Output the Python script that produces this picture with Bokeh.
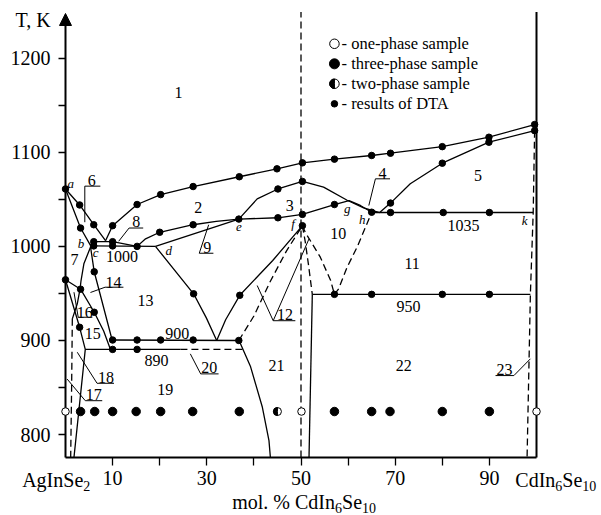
import math
from bokeh.plotting import figure
from bokeh.models import Range1d, FixedTicker, LinearAxis, Arrow, NormalHead
from bokeh.core.properties import value
from bokeh.embed import file_html
from bokeh.resources import INLINE

FONT = "Liberation Serif"

# ---------------- axes ----------------
x_ticks = [10, 20, 30, 40, 50, 60, 70, 80, 90]
x_tick_labels = {10: "10", 20: "", 30: "30", 40: "", 50: "50", 60: "", 70: "70", 80: "", 90: "90"}
y_ticks = [800, 900, 1000, 1100, 1200]
y_minor = [850, 950, 1050, 1150]
T_MIN = 775.7
T_TOP = 1249

# ---------------- solid phase boundaries ----------------
liq_main_x = [8.5, 10, 15.2, 20.2, 27.1, 36.9, 44.9, 50.3, 57.1, 65, 69, 80, 89.9, 99.6]
liq_main_T = [1006, 1022, 1044.5, 1055, 1063.6, 1074, 1082.4, 1088.8, 1092.7, 1096.6, 1099, 1106, 1116, 1129.5]
liq_left_x = [0, 3.0, 6.0, 8.5]
liq_left_T = [1061, 1044, 1023, 1006]
ab_x = [0, 3.2, 5.3]
ab_T = [1061, 1019.5, 1001]
line1000_x = [5.3, 19.1]
line1000_T = [1000.5, 1000]
curve8_x = [5.3, 6, 10, 15.2]
curve8_T = [1001, 1005, 1005, 1000]
sol_upper_x = [15.2, 17, 20, 27.1, 32, 36.8, 45.1, 50.3, 57.1, 60.2, 62.6, 65]
sol_upper_T = [1000, 1008, 1015, 1023, 1026.5, 1029, 1030.4, 1034, 1044.5, 1048.7, 1043.5, 1036.3]
de_x = [19.1, 36.8]
de_T = [1000, 1029]
dome_x = [36.8, 40.7, 45.1, 50.3, 54.8, 59.8, 63.3, 66.7]
dome_T = [1029, 1050.5, 1061, 1069, 1063, 1049, 1041, 1036]
line1035_x = [65, 99.3]
line1035_T = [1036, 1036]
liq_right_x = [66.7, 69, 73.2, 80, 89.9, 99.6]
liq_right_T = [1036, 1046, 1066.5, 1088.4, 1110.7, 1123]
vleft_x = [19.1, 27.2, 29.9, 32.1]
vleft_T = [1000, 949.6, 924, 900]
vright_x = [50.3, 44, 37, 34, 32.1]
vright_T = [1022, 985, 948, 922, 900]
line900_x = [9.9, 36.8]
line900_T = [900.5, 900]
line890_x = [4.2, 24.4]
line890_T = [890.5, 890.5]
b_down_x = [5.3, 6.1, 9.9]
b_down_T = [1000, 973, 900.5]
c_curve_x = [5.3, 3.9, 3.3, 3.1, 2.5, 1.45]
c_curve_T = [999, 981.5, 963.7, 955, 939, 923]
ag_liq_x = [0, 3.2, 6.1, 8.1, 9.55]
ag_liq_T = [964.5, 954.5, 930, 910, 890.5]
ag_sol_x = [0, 3.0, 4.2, 1.8]
ag_sol_T = [964.5, 914, 890.5, 775.7]
solvus21_x = [36.8, 37.2, 39.3, 41.8, 43.2, 43.5]
solvus21_T = [900, 896, 872, 829, 793.6, 775.7]
v52_x = [52.4, 51.7]
v52_T = [949, 775.7]
line950_x = [52.4, 98.7]
line950_T = [949, 949]

solid_curves = [
    (liq_main_x, liq_main_T), (liq_left_x, liq_left_T), (ab_x, ab_T),
    (line1000_x, line1000_T), (curve8_x, curve8_T), (sol_upper_x, sol_upper_T),
    (de_x, de_T), (dome_x, dome_T), (line1035_x, line1035_T),
    (liq_right_x, liq_right_T), (vleft_x, vleft_T), (vright_x, vright_T),
    (line900_x, line900_T), (line890_x, line890_T), (b_down_x, b_down_T),
    (c_curve_x, c_curve_T), (ag_liq_x, ag_liq_T), (ag_sol_x, ag_sol_T),
    (solvus21_x, solvus21_T), (v52_x, v52_T), (line950_x, line950_T),
]

# ---------------- dashed boundaries ----------------
d50_x = [50, 50]
d50_T = [T_MIN, T_TOP]
d_left_x = [36.8, 40, 43.5, 46.9, 50.3]
d_left_T = [900, 926, 963, 995, 1022]
d_f52_x = [50.3, 50.9, 51.6, 52.4]
d_f52_T = [1022, 1005, 980, 949]
d_f57_x = [50.3, 50.9, 54.1, 56.3, 57.1]
d_f57_T = [1022, 1015, 988.5, 963.7, 949]
d_57h_x = [57.1, 58, 59.8, 61.9, 65]
d_57h_T = [949, 955, 978, 999, 1036]
d890_x = [24.4, 37.9]
d890_T = [890.5, 890.5]
d_ledge_x = [1.45, 1.3, 1.1]
d_ledge_T = [923, 850, T_MIN]
d_redge_x = [99.6, 99.3, 98.7, 98.0]
d_redge_T = [1123, 1036, 949, T_MIN]

dashed_curves = [
    (d50_x, d50_T), (d_left_x, d_left_T), (d_f52_x, d_f52_T), (d_f57_x, d_f57_T),
    (d_57h_x, d_57h_T), (d890_x, d890_T), (d_ledge_x, d_ledge_T), (d_redge_x, d_redge_T),
]

# ---------------- DTA points ----------------
dta_x = [0, 3.0, 6.0, 3.2, 10, 15.2, 20.2, 27.1, 36.9, 44.9, 50.3, 57.1, 65, 69, 80, 89.9, 99.6,
         99.6, 89.9, 80, 69,
         6, 10, 15.2, 6, 10,
         20, 27.1, 36.8, 45.1, 50.3, 57.1, 65,
         45.1, 50.3, 50.3,
         69, 80.2, 90,
         27.2, 37,
         10, 15.2, 20.2, 27.1, 36.8,
         10, 15.2,
         6.1, 0, 3.2, 6.1, 3.0,
         57.1, 65, 80, 90]
dta_T = [1061, 1044, 1023, 1019.5, 1022, 1044.5, 1055, 1063.6, 1074, 1082.4, 1088.8, 1092.7, 1096.6, 1099, 1106, 1116, 1129.5,
         1123, 1110.7, 1088.4, 1046,
         1000.5, 1000.5, 1000, 1005, 1005,
         1015, 1023, 1029, 1030.4, 1034, 1044.5, 1036.3,
         1061, 1069, 1022,
         1036, 1036, 1036,
         949.6, 948,
         900.5, 900.5, 900.5, 900.5, 900,
         890.5, 890.5,
         973, 964.5, 954.5, 930, 914,
         949, 949, 949, 949]

# ---------------- samples (annealed at ~824 K) ----------------
sample_T = 824.5
three_phase_x = [3.2, 6.2, 10, 15, 20.2, 27, 36.9, 57.1, 65, 68.9, 80, 90]
two_phase_x = [45]
one_phase_x = [0, 50.1, 100]

# ---------------- legend ----------------
legend_labels = ["- one-phase sample", "- three-phase sample", "- two-phase sample", "- results of DTA"]
legend_T = [1215.3, 1194, 1172.8, 1151.5]
legend_x = 57.1
legend_text_x = 58.6

# ---------------- region / field labels ----------------
region_text = ["1", "2", "3", "4", "5", "6", "7", "8", "9", "10", "11", "12", "13", "14", "15",
               "16", "17", "18", "19", "20", "21", "22", "23"]
region_x = [24, 28.2, 47.6, 67.3, 87.6, 5.6, 1.9, 15.0, 30.1, 57.9, 73.6, 46.6, 17, 10.2, 5.8,
            4.1, 6.0, 8.6, 21.2, 30.5, 44.8, 71.8, 93.2]
region_T = [1163.5, 1041, 1043, 1077, 1075, 1070, 985.7, 1026, 999, 1013.3, 982, 927.5, 943, 962,
            907, 930, 842.5, 861, 848, 871, 873.4, 873.4, 869.5]

iso_text = ["1000", "900", "890", "950", "1035"]
iso_x = [12, 23.7, 19.3, 72.8, 84.5]
iso_T = [989, 907.7, 878.7, 935.6, 1022]

pt_text = ["a", "b", "c", "d", "e", "f", "g", "h", "k"]
pt_x = [1.1, 3.3, 6.4, 21.9, 36.8, 48.3, 59.8, 63.0, 97.5]
pt_T = [1066.5, 1002.7, 993.8, 995.6, 1020.4, 1024, 1040, 1029, 1028]

# leader lines (underline + pointer) for labels 4, 6, 8, 9, 12, 14, 16, 17, 18, 20, 23
leader_xs = [[68.9, 65.8, 64.4], [7.4, 4.1, 4.1], [16.5, 13.5, 11.3], [31.4, 28.4, 30.4],
             [48.8, 44.1, 40.7], [44.1, 51.7], [12.3, 8.4, 5.3], [5.7, 2.7, 1.8],
             [7.8, 4.2, 0.35], [10.3, 6.7, 2.5], [32.5, 28.7, 26.5], [91.3, 95.2, 98.7]]
leader_Ts = [[1071.8, 1071.8, 1043.4], [1064, 1064, 1025.7], [1019.5, 1019.5, 1005.5], [992.7, 992.7, 1023],
             [921, 921, 958.4], [921, 1008], [956.6, 956.6, 951], [924.7, 924.7, 951.3],
             [836, 836, 859], [854.5, 854.5, 887.5], [864.5, 864.5, 885.8], [862.7, 862.7, 880.5]]

# ---------------- figure ----------------
p = figure(width=601, height=515, x_range=Range1d(-13.8, 113.8), y_range=Range1d(714.0, 1261.3),
           output_backend="svg", toolbar_location=None, x_axis_location=None, y_axis_location=None,
           min_border=0, min_border_left=0, min_border_right=0, min_border_top=0, min_border_bottom=0)
p.outline_line_color = None
p.xgrid.grid_line_color = None
p.ygrid.grid_line_color = None
p.background_fill_color = "white"

xax = LinearAxis(fixed_location=T_MIN, bounds=(0, 100), ticker=FixedTicker(ticks=x_ticks),
                 major_label_overrides=x_tick_labels)
xax.axis_line_width = 2
xax.major_tick_out = 8
xax.major_tick_in = 0
xax.major_tick_line_width = 1.3
xax.major_label_standoff = 6
xax.major_label_text_font = FONT
xax.major_label_text_font_size = "20px"
xax.major_label_text_color = "black"
p.add_layout(xax, "below")

yax = LinearAxis(fixed_location=0, bounds=(T_MIN, 1240), ticker=FixedTicker(ticks=y_ticks, minor_ticks=y_minor))
yax.axis_line_width = 2
yax.major_tick_out = 7
yax.major_tick_in = 0
yax.minor_tick_out = 7
yax.minor_tick_in = 0
yax.major_tick_line_width = 1.3
yax.minor_tick_line_width = 1.3
yax.major_label_standoff = 8
yax.major_label_text_font = FONT
yax.major_label_text_font_size = "20px"
yax.major_label_text_color = "black"
yax.major_label_text_baseline = "alphabetic"
p.add_layout(yax, "left")

p.add_layout(Arrow(end=NormalHead(size=12, fill_color="black", line_color="black"),
                   x_start=0, y_start=1236, x_end=0, y_end=1247.5, line_width=2, line_color="black"))

# right border (pure CdIn6Se10)
p.line([100, 100], [T_MIN, T_TOP], line_width=2, line_color="black")

for xs, ts in solid_curves:
    p.line(xs, ts, line_width=1.3, line_color="black")
for xs, ts in dashed_curves:
    p.line(xs, ts, line_width=1.3, line_color="black", line_dash="7 4")

p.multi_line(leader_xs, leader_Ts, line_width=1, line_color="black")

p.scatter(dta_x, dta_T, size=6.5, color="black")

p.scatter(three_phase_x, [sample_T] * len(three_phase_x), size=8.5, color="black")
p.scatter(two_phase_x, [sample_T] * len(two_phase_x), size=8, fill_color="white",
          line_color="black", line_width=1)
p.wedge(x=two_phase_x, y=[sample_T] * len(two_phase_x), radius=4, radius_units="screen",
        start_angle=math.pi / 2, end_angle=3 * math.pi / 2, color="black")
p.scatter(one_phase_x, [sample_T] * len(one_phase_x), size=7.5, fill_color="white",
          line_color="black", line_width=1, level="annotation")

# legend
p.scatter([legend_x], [legend_T[0]], size=9.5, fill_color="white", line_color="black", line_width=1)
p.scatter([legend_x], [legend_T[1]], size=10, color="black")
p.scatter([legend_x], [legend_T[2]], size=9.5, fill_color="white", line_color="black", line_width=1)
p.wedge(x=[legend_x], y=[legend_T[2]], radius=4.75, radius_units="screen",
        start_angle=math.pi / 2, end_angle=3 * math.pi / 2, color="black")
p.scatter([legend_x], [legend_T[3]], size=6.5, color="black")
p.text([legend_text_x] * 4, legend_T, text=legend_labels, text_font=value(FONT),
       text_font_size="16.5px", text_baseline="middle", text_align="left", text_color="black")

p.text(region_x, region_T, text=region_text, text_font=value(FONT), text_font_size="16px",
       text_baseline="middle", text_align="center", text_color="black")
p.text(iso_x, iso_T, text=iso_text, text_font=value(FONT), text_font_size="16px",
       text_baseline="middle", text_align="center", text_color="black")
p.text(pt_x, pt_T, text=pt_text, text_font=value(FONT), text_font_size="13px",
       text_font_style="italic", text_baseline="middle", text_align="center", text_color="black")

# axis titles with subscripts: (text, x, T-centre, x_offset px, font size)
title_text = ["T, K", "AgInSe", "2", "CdIn", "6", "Se", "10", "mol. % CdIn", "6", "Se", "10"]
title_x = [-10.6, -9.2, -9.2, 95.5, 95.5, 95.5, 95.5, 35.4, 35.4, 35.4, 35.4]
title_T = [1241.0, 751.2, 745.0, 751.2, 745.0, 751.2, 745.0, 728.2, 722.0, 728.2, 722.0]
title_off = [0, 0, 61.1, 0, 40, 47, 67, 0, 102.8, 109.8, 129.8]
title_size = ["20px", "20px", "14px", "20px", "14px", "20px", "14px", "20px", "14px", "20px", "14px"]
p.text(title_x, title_T, text=title_text, x_offset=title_off, text_font=value(FONT),
       text_font_size=title_size, text_baseline="middle", text_align="left", text_color="black")

open("out.html", "w").write(file_html(p, INLINE))
